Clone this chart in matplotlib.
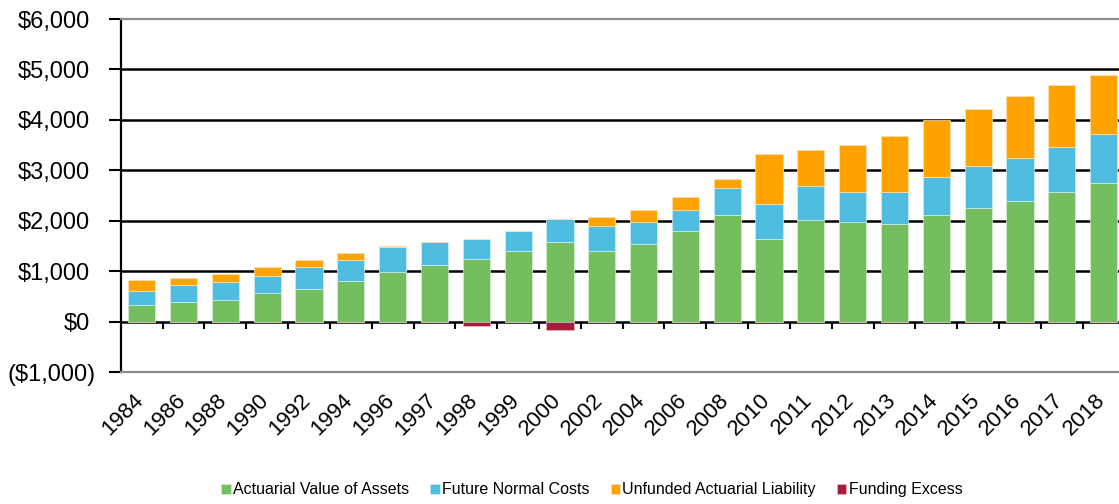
import matplotlib
matplotlib.use('Agg')
import matplotlib.pyplot as plt
import matplotlib.transforms as mtransforms
import numpy as np

plt.rcParams['font.family'] = ['Liberation Sans', 'DejaVu Sans']

# data (millions)
years = ['1984', '1986', '1988', '1990', '1992', '1994', '1996', '1997', '1998', '1999', '2000', '2002',
         '2004', '2006', '2008', '2010', '2011', '2012', '2013', '2014', '2015', '2016', '2017', '2018']
assets = [330, 396, 436, 581, 660, 800, 978, 1117, 1235, 1406, 1584, 1403,
          1549, 1792, 2122, 1648, 2010, 1976, 1945, 2122, 2261, 2399, 2577, 2755]
normal_costs = [278, 324, 356, 324, 417, 428, 501, 467, 415, 390, 463, 501,
                427, 421, 534, 684, 678, 601, 632, 738, 822, 856, 895, 968]
unfunded = [224, 151, 152, 178, 151, 138, 33, 0, 0, 0, 0, 182,
            245, 265, 178, 996, 712, 929, 1107, 1146, 1140, 1219, 1212, 1172]
excess = [0, 0, 0, 0, 0, 0, 0, 0, -90, 0, -165, 0,
          0, 0, 0, 0, 0, 0, 0, 0, 0, 0, 0, 0]

labels = ['Actuarial Value of Assets', 'Future Normal Costs', 'Unfunded Actuarial Liability', 'Funding Excess']
colors = ['#75BE5F', '#4FBDE0', '#FFA300', '#A51C40']

fig = plt.figure(figsize=(11.19, 5.04), dpi=100)
ax = fig.add_axes([0.1079, 0.2613, 0.8971, 0.7010])

x = np.arange(len(years))
w = 0.65
a = np.array(assets)
n = np.array(normal_costs)
u = np.array(unfunded)
ax.bar(x, a, w, color=colors[0], edgecolor='#D8EED0', linewidth=0.5, label=labels[0], zorder=2)
ax.bar(x, n, w, bottom=a, color=colors[1], edgecolor='#D0EEF8', linewidth=0.5, label=labels[1], zorder=2)
ax.bar(x, u, w, bottom=a + n, color=colors[2], edgecolor='#FFE2B0', linewidth=0.5, label=labels[2], zorder=2)
ax.bar(x, excess, w, color=colors[3], edgecolor='#E8B8C4', linewidth=0.5, label=labels[3], zorder=2)

ax.set_xlim(-0.5, len(years) - 0.5)
ax.set_ylim(-1000, 6000)
yt = np.arange(-1000, 6001, 1000)
ax.set_yticks(yt)
ylabs = []
for v in yt:
    if v < 0:
        ylabs.append('(${:,})'.format(-v))
    else:
        ylabs.append('${:,}'.format(v))
ax.set_yticklabels(ylabs, fontsize=17)
ax.tick_params(axis='y', length=9, width=1.5, pad=13.5, color='black')
# negative label sits a bit further right (parentheses alignment)
for lab in ax.get_yticklabels():
    if lab.get_text().startswith('('):
        lab.set_transform(lab.get_transform() + mtransforms.ScaledTranslation(0.066, 0, fig.dpi_scale_trans))

# gridlines
for v in yt[1:-1]:
    ax.axhline(v, color='black', linewidth=1.8, zorder=1)

ax.set_xticks(x)
ax.set_xticklabels(years, fontsize=16, rotation=45, ha='right', va='top', rotation_mode='anchor')
ax.tick_params(axis='x', length=0, pad=12.5)
for lab in ax.get_xticklabels():
    lab.set_transform(lab.get_transform() + mtransforms.ScaledTranslation(-0.09, 0, fig.dpi_scale_trans))

# category boundary ticks on the zero line
trans = ax.get_xaxis_transform()
y0 = 1000 / 7000.0
ax.vlines(x[:-1] + 0.5, y0 - 0.021, y0, transform=trans, color='black', linewidth=1.5, zorder=3)

for s in ['top', 'bottom']:
    ax.spines[s].set_color('#8C8C8C')
    ax.spines[s].set_linewidth(1.6)
ax.spines['left'].set_color('black')
ax.spines['left'].set_linewidth(1.6)
ax.spines['right'].set_visible(False)

fig.legend(loc='center', bbox_to_anchor=(0.529, 0.028), ncol=4, frameon=False, fontsize=11.5,
           handlelength=0.6, handleheight=0.6, handletextpad=0.15, columnspacing=1.3)

fig.savefig('out.png', dpi=100)
